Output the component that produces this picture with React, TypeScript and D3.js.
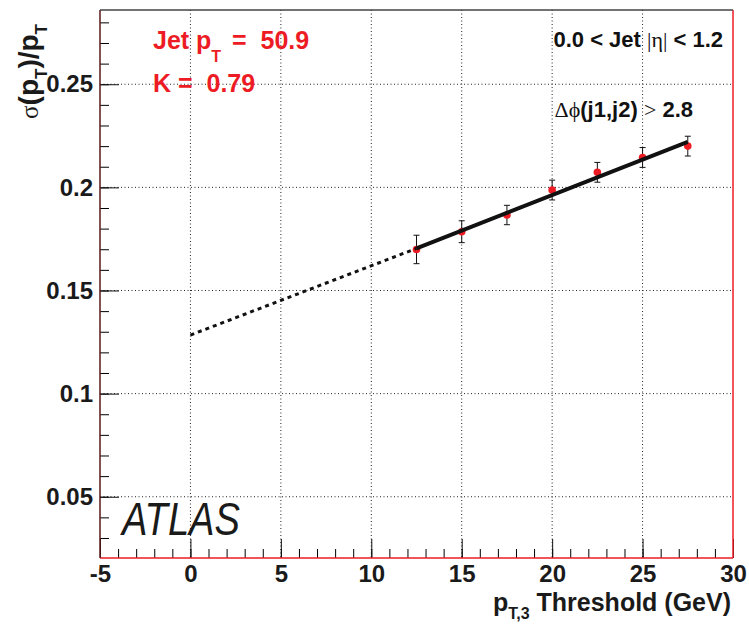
import React, { useEffect, useRef } from 'react';
import * as d3 from 'd3';

// pT,3 threshold values (GeV) and measured resolution
const thresholds = [12.5, 15, 17.5, 20, 22.5, 25, 27.5];
const resolution = [0.1699, 0.1785, 0.1866, 0.1987, 0.2073, 0.2145, 0.22];
const resolutionErr = [0.0069, 0.0053, 0.0047, 0.0048, 0.0048, 0.0048, 0.0048];

// fit: extrapolation to 0 (dotted) then fitted range (solid)
const fitX = [0, 12.5, 27.5];
const fitY = [0.1284, 0.1704, 0.2221];

const xTicks = [-5, 0, 5, 10, 15, 20, 25, 30];
const yTicks = [0.05, 0.1, 0.15, 0.2, 0.25];
const xDomain = [-5, 30];
const yDomain = [0.0203, 0.286];

const RED = '#ed1c24';
const SANS = '"Liberation Sans", Arial, Helvetica, sans-serif';
const SERIF = '"Liberation Serif", "DejaVu Serif", serif';

const App = () => {
  const gRef = useRef<SVGGElement>(null);

  useEffect(() => {
    const g = d3.select(gRef.current);
    g.selectAll('*').remove();

    const width = 749;
    const height = 624;
    const margin = { top: 10, right: 16, bottom: 66, left: 100 };

    const x = d3.scaleLinear().domain(xDomain).range([margin.left, width - margin.right]);
    const y = d3.scaleLinear().domain(yDomain).range([height - margin.bottom, margin.top]);
    const [x0, x1] = x.range();
    const [y0, y1] = y.range();

    // grid
    g.append('g')
      .selectAll('line')
      .data(xTicks.slice(1, -1))
      .join('line')
      .attr('x1', d => x(d))
      .attr('x2', d => x(d))
      .attr('y1', y1)
      .attr('y2', y0)
      .attr('stroke', '#222')
      .attr('stroke-width', 1)
      .attr('stroke-dasharray', '1,2.5');

    g.append('g')
      .selectAll('line')
      .data(yTicks)
      .join('line')
      .attr('x1', x0)
      .attr('x2', x1)
      .attr('y1', d => y(d))
      .attr('y2', d => y(d))
      .attr('stroke', '#222')
      .attr('stroke-width', 1)
      .attr('stroke-dasharray', '1,2.5');

    // minor ticks
    const xMinor = d3.range(-5, 30.01, 1);
    const yMinor = d3.range(0.03, 0.2805, 0.01);

    g.append('g')
      .attr('transform', `translate(0,${y0})`)
      .call(d3.axisBottom(x).tickValues(xMinor).tickSize(-9).tickFormat(() => ''))
      .call(s => s.select('.domain').remove());

    g.append('g')
      .attr('transform', `translate(${x0},0)`)
      .call(d3.axisLeft(y).tickValues(yMinor).tickSize(-9).tickFormat(() => ''))
      .call(s => s.select('.domain').remove());

    // major ticks + labels
    const xAxis = g.append('g')
      .attr('transform', `translate(0,${y0})`)
      .call(d3.axisBottom(x).tickValues(xTicks).tickSize(-19).tickPadding(7).tickFormat(d => String(d)));
    xAxis.select('.domain').remove();

    const yAxis = g.append('g')
      .attr('transform', `translate(${x0},0)`)
      .call(d3.axisLeft(y).tickValues(yTicks).tickSize(-19).tickPadding(7).tickFormat(d => String(d)));
    yAxis.select('.domain').remove();

    [xAxis, yAxis].forEach(a => {
      a.selectAll('text')
        .attr('fill', '#1a1a1a')
        .style('font-family', SANS)
        .style('font-weight', 'bold')
        .style('font-size', '24px');
      a.selectAll('line').attr('stroke', '#111');
    });

    // frame
    g.append('line').attr('x1', x0).attr('x2', x1).attr('y1', y0).attr('y2', y0)
      .attr('stroke', RED).attr('stroke-width', 1.5);
    g.append('line').attr('x1', x1).attr('x2', x1).attr('y1', y1).attr('y2', y0)
      .attr('stroke', RED).attr('stroke-width', 1.5);
    g.append('line').attr('x1', x0).attr('x2', x1).attr('y1', y1).attr('y2', y1)
      .attr('stroke', '#444').attr('stroke-width', 1.5);
    g.append('line').attr('x1', x0).attr('x2', x0).attr('y1', y1).attr('y2', y0)
      .attr('stroke', '#5a1818').attr('stroke-width', 1.5);

    const points = thresholds.map((t, i) => ({ t, v: resolution[i], e: resolutionErr[i] }));

    // error bars
    const bars = g.append('g').attr('stroke', '#111').attr('stroke-width', 1);
    bars.selectAll('.bar')
      .data(points)
      .join('line')
      .attr('x1', d => x(d.t))
      .attr('x2', d => x(d.t))
      .attr('y1', d => y(d.v - d.e))
      .attr('y2', d => y(d.v + d.e));
    bars.selectAll('.capTop')
      .data(points)
      .join('line')
      .attr('x1', d => x(d.t) - 3)
      .attr('x2', d => x(d.t) + 3)
      .attr('y1', d => y(d.v + d.e))
      .attr('y2', d => y(d.v + d.e));
    bars.selectAll('.capBot')
      .data(points)
      .join('line')
      .attr('x1', d => x(d.t) - 3)
      .attr('x2', d => x(d.t) + 3)
      .attr('y1', d => y(d.v - d.e))
      .attr('y2', d => y(d.v - d.e));

    // points
    g.append('g')
      .selectAll('circle')
      .data(points)
      .join('circle')
      .attr('cx', d => x(d.t))
      .attr('cy', d => y(d.v))
      .attr('r', 3.8)
      .attr('fill', RED);

    // fit line
    const fit = fitX.map((fx, i) => ({ fx, fy: fitY[i] }));
    const line = d3.line<{ fx: number; fy: number }>()
      .x(d => x(d.fx))
      .y(d => y(d.fy));

    g.append('path')
      .datum(fit.slice(0, 2))
      .attr('fill', 'none')
      .attr('stroke', '#111')
      .attr('stroke-width', 3)
      .attr('stroke-dasharray', '4,4')
      .attr('d', line);

    g.append('path')
      .datum(fit.slice(1))
      .attr('fill', 'none')
      .attr('stroke', '#111')
      .attr('stroke-width', 4)
      .attr('d', line);
  }, []);

  return (
    <svg
      width={749}
      height={624}
      style={{ position: 'absolute', left: 0, top: 0, background: '#fff' }}
      fontFamily={SANS}
    >
      <g ref={gRef} />

      <text x={153} y={49} fill={RED} fontWeight="bold" fontSize={25} style={{ whiteSpace: 'pre' }}>
        Jet p<tspan dy={13} fontSize={16}>T</tspan><tspan x={232} dy={-13}>{'=  50.9'}</tspan>
      </text>
      <text x={153} y={92} fill={RED} fontWeight="bold" fontSize={25} style={{ whiteSpace: 'pre' }}>
        {'K =  0.79'}
      </text>

      <text x={723} y={47} textAnchor="end" fill="#111" fontWeight="bold" fontSize={22} style={{ whiteSpace: 'pre' }}>
        {'0.0 < Jet '}<tspan fontFamily={SERIF} fontWeight="normal">|η|</tspan>{' < 1.2'}
      </text>
      <text x={693} y={117} textAnchor="end" fill="#111" fontWeight="bold" fontSize={22} style={{ whiteSpace: 'pre' }}>
        <tspan fontFamily={SERIF} fontWeight="normal">Δϕ</tspan>{'(j1,j2) '}<tspan fontFamily={SERIF} fontWeight="normal">{'>'}</tspan>{' 2.8'}
      </text>

      <text x={122} y={535} fill="#1a1a1a" fontStyle="italic" fontSize={46} textLength={118} lengthAdjust="spacingAndGlyphs">
        ATLAS
      </text>

      <text
        transform="translate(38,24) rotate(-90)"
        textAnchor="end"
        fill="#1a1a1a"
        fontWeight="bold"
        fontSize={28}
      >
        <tspan fontFamily={SERIF} fontWeight="normal" fontSize={25}>σ</tspan>(p<tspan dy={9} fontSize={17}>T</tspan><tspan dy={-9}>)/p</tspan><tspan dy={9} fontSize={17}>T</tspan>
      </text>

      <text x={731} y={611} textAnchor="end" fill="#1a1a1a" fontWeight="bold" fontSize={25} style={{ whiteSpace: 'pre' }}>
        p<tspan dy={8} fontSize={16}>T,3</tspan><tspan dy={-8}>{' Threshold (GeV)'}</tspan>
      </text>
    </svg>
  );
};

export default App;
